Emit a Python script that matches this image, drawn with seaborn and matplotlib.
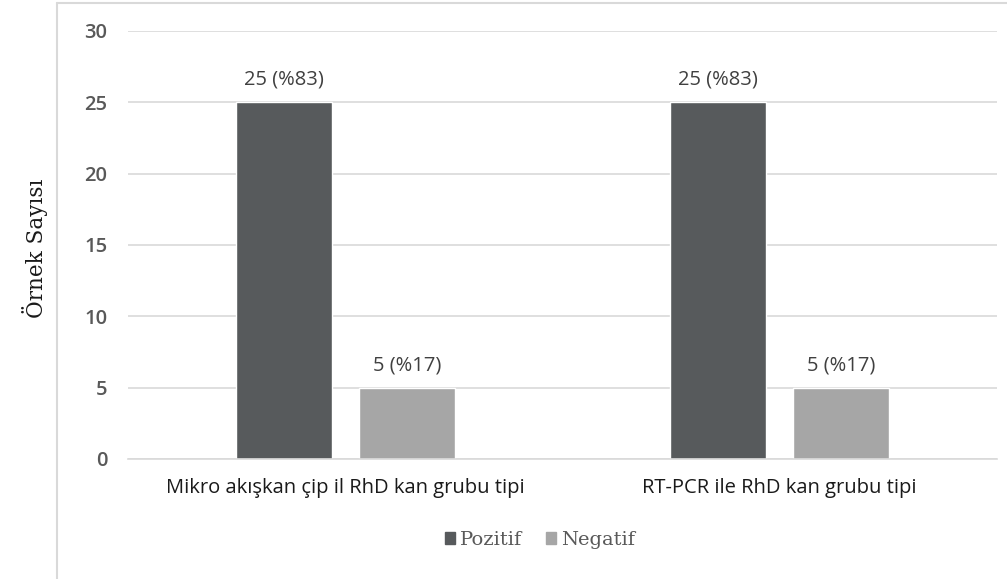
import pandas as pd
import matplotlib.pyplot as plt
import seaborn as sns
from matplotlib.lines import Line2D

kategoriler = ["Mikro akışkan çip il RhD kan grubu tipi", "RT-PCR ile RhD kan grubu tipi"]
pozitif = [25, 25]
negatif = [5, 5]
pozitif_yuzde = [83, 83]
negatif_yuzde = [17, 17]

df = pd.DataFrame({
    "kategori": kategoriler * 2,
    "sonuc": ["Pozitif"] * 2 + ["Negatif"] * 2,
    "sayi": pozitif + negatif,
    "yuzde": pozitif_yuzde + negatif_yuzde,
})

sns.set_style("white")
plt.rcParams["font.family"] = ["Open Sans", "DejaVu Sans"]

fig = plt.figure(figsize=(10.07, 5.79), dpi=100)
ax = fig.add_axes([128 / 1007, 1 - 459 / 579, (997 - 128) / 1007, (459 - 31) / 579])

renkler = {"Pozitif": "#575a5c", "Negatif": "#a6a6a6"}
sns.barplot(data=df, x="kategori", y="sayi", hue="sonuc", palette=renkler,
            width=0.566, gap=0.22, saturation=1, ax=ax, legend=False)

for cont, yuzdeler in zip(ax.containers, [pozitif_yuzde, negatif_yuzde]):
    etiketler = [f"{int(b.get_height())} (%{y})" for b, y in zip(cont, yuzdeler)]
    ax.bar_label(cont, labels=etiketler, padding=9, fontsize=14.5, color="#404040")

ax.set_ylim(0, 30)
ax.set_yticks([0, 5, 10, 15, 20, 25, 30])
ax.yaxis.grid(True, color="#d9d9d9", linewidth=1.2)
ax.set_axisbelow(True)
for s in ["top", "right", "left"]:
    ax.spines[s].set_visible(False)
ax.spines["bottom"].set_color("#d9d9d9")
ax.spines["bottom"].set_linewidth(1.2)
ax.tick_params(axis="y", length=0, pad=15, labelsize=14.5, labelcolor="#595959")
ax.tick_params(axis="x", length=0, pad=14, labelsize=14.5, labelcolor="#1a1a1a")
for t in ax.get_yticklabels():
    t.set_fontweight("semibold")
ax.set_xlabel("")
ax.set_ylabel("")

fig.text(35 / 1007, 1 - 248 / 579, "Örnek Sayısı", rotation=90, ha="center", va="center",
         fontsize=15.5, family=["DejaVu Serif"], color="#1a1a1a")

tutacaklar = [plt.Rectangle((0, 0), 1, 1, color=renkler[k]) for k in ["Pozitif", "Negatif"]]
fig.legend(tutacaklar, ["Pozitif", "Negatif"], loc="center", bbox_to_anchor=(540 / 1007, 1 - 540 / 579),
           ncol=2, frameon=False, handlelength=0.55, handleheight=0.55, handletextpad=0.25,
           columnspacing=1.2, prop={"family": "DejaVu Serif", "size": 14}, labelcolor="#595959")

# dis cerceve
fig.add_artist(Line2D([57 / 1007, 57 / 1007], [0, 1 - 3 / 579], color="#d9d9d9", linewidth=1.5,
                      transform=fig.transFigure))
fig.add_artist(Line2D([57 / 1007, 1], [1 - 3 / 579, 1 - 3 / 579], color="#d9d9d9", linewidth=1.5,
                      transform=fig.transFigure))

plt.savefig("out.png", dpi=100)
